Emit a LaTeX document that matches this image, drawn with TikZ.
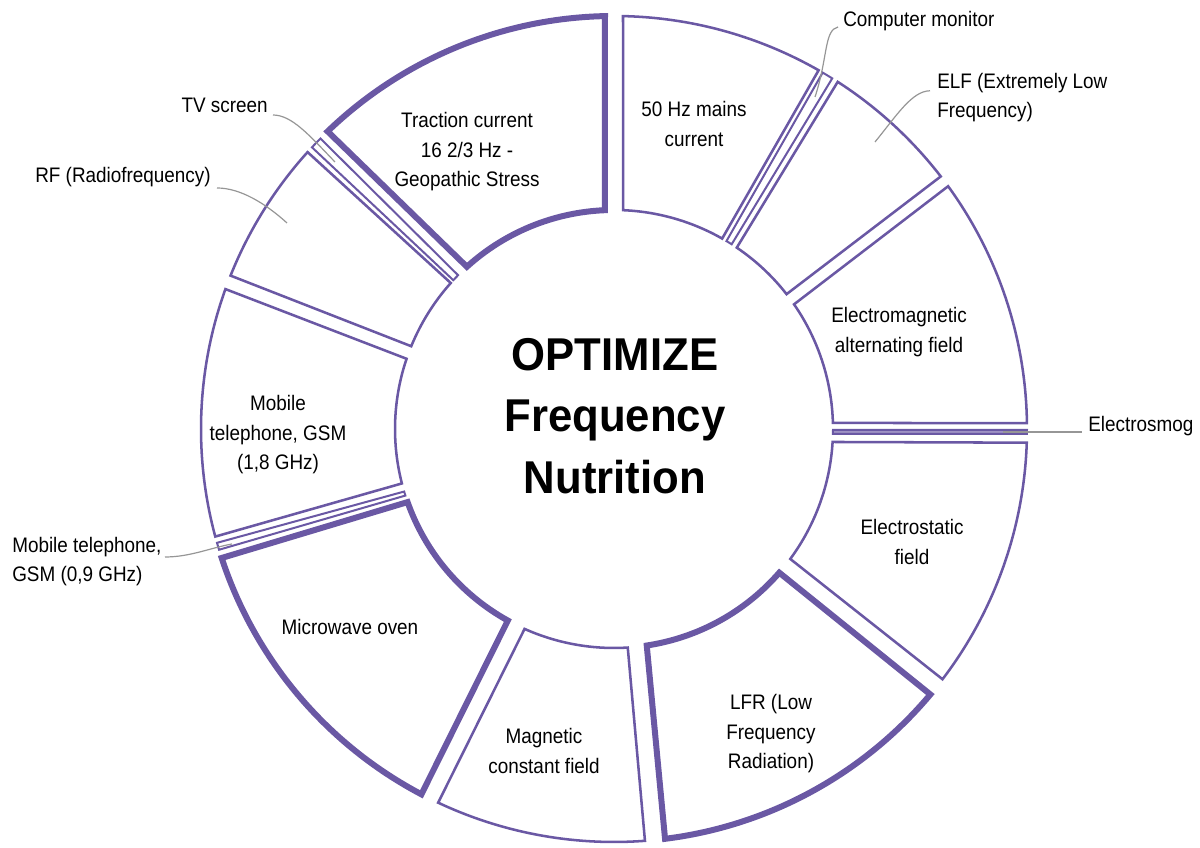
\documentclass[tikz,border=0pt]{standalone}
\usepackage{fontspec}
\setmainfont{Liberation Sans}[FakeStretch=0.9]
\newfontfamily\titlefont{Liberation Sans}[FakeStretch=0.95]
\usetikzlibrary{positioning}

\definecolor{ringpurple}{RGB}{106,88,164}
\definecolor{leadgray}{RGB}{150,150,150}

% one piece of the ring: style, outer start/end angle, inner start/end angle
\newcommand{\ringpart}[5]{%
  \draw[#1] (#2:413) arc[start angle=#2, end angle=#3, radius=413]
    -- (#5:219) arc[start angle=#5, end angle=#4, radius=219] -- cycle;}

\begin{document}
\begin{tikzpicture}[x=0.75pt,y=0.75pt,
    seg/.style={draw=ringpurple, line width=1.9pt},
    segbold/.style={draw=ringpurple, line width=4.5pt},
    sliver/.style={draw=ringpurple, line width=1.5pt},
    lbl/.style={font=\fontsize{15.75}{22.1}\selectfont, align=center, inner sep=0pt},
    leader/.style={draw=leadgray, line width=0.9pt}]

  \useasboundingbox (0,0) rectangle (1200,848);

  \begin{scope}[shift={(614,419)}]
    \ringpart{seg}{88.75}{60.3}{87.6}{60.4}
    \ringpart{sliver}{59.65}{58.1}{59.1}{57.5}
    \ringpart{seg}{57.2}{37.7}{55.9}{38.0}
    \ringpart{seg}{36.0}{0.8}{34.7}{1.6}
    \ringpart{sliver, fill=ringpurple!65}{-0.14}{-0.69}{-0.26}{-1.31}
    \ringpart{seg}{-1.9}{-37.3}{-3.4}{-36.4}
    \ringpart{segbold}{-40.0}{-82.9}{-41.0}{-81.4}
    \ringpart{seg}{-85.7}{-115.2}{-86.4}{-114.1}
    \ringpart{segbold}{-117.8}{-161.8}{-119.0}{-160.5}
    \ringpart{sliver}{-163.0}{-164.0}{-162.3}{-163.4}
    \ringpart{seg}{-164.9}{-199.8}{-165.6}{-198.7}
    \ringpart{seg}{158.2}{137.9}{157.8}{138.2}
    \ringpart{sliver}{137.0}{135.3}{137.2}{135.4}
    \ringpart{segbold}{133.9}{91.25}{132.2}{92.4}
  \end{scope}

  % texts in the ring
  \node[lbl] (mains) at (694,724) {50 Hz mains\\current};
  \node[lbl] (traction) at (467,696) {Traction current\\16 2/3 Hz -\\Geopathic Stress};
  \node[lbl] (emfield) at (899,516) {Electromagnetic\\alternating field};
  \node[lbl] (esfield) at (912,306) {Electrostatic\\field};
  \node[lbl] (lfr) at (771,114) {LFR (Low\\Frequency\\Radiation)};
  \node[lbl] (magfield) at (544,97) {Magnetic\\constant field};
  \node[lbl] (microwave) at (350,221) {Microwave oven};
  \node[lbl] (gsmhigh) at (278,413) {Mobile\\telephone, GSM\\(1,8 GHz)};

  \node[font=\titlefont\bfseries\fontsize{34.5}{46}\selectfont, align=center, inner sep=0pt]
    (title) at (615,432) {OPTIMIZE\\Frequency\\Nutrition};

  % outside texts
  \node[lbl, anchor=base west] (monitor) at (843,821) {Computer monitor};
  \node[lbl, align=left, anchor=north west] (elf) at (937,775) {ELF (Extremely Low\\Frequency)};
  \node[lbl, anchor=base west] (smog) at (1088,416) {Electrosmog};
  \node[lbl, anchor=base east] (tvscreen) at (268,735) {TV screen};
  \node[lbl, anchor=base east] (radiofreq) at (211,665) {RF (Radiofrequency)};
  \node[lbl, align=left, anchor=north west] (gsmlow) at (12,311) {Mobile telephone,\\GSM (0,9 GHz)};

  % leader lines
  \coordinate (monitorIn) at (815,751);
  \coordinate (elfIn) at (875,706);
  \coordinate (smogIn) at (1003,416);
  \coordinate (tvIn) at (335,686);
  \coordinate (rfIn) at (287,625);
  \coordinate (gsmlowIn) at (232,304);

  \draw[leader] (monitorIn) .. controls (828,790) and (824,818) .. ([shift={(-5,0)}]monitor.base west);
  \draw[leader] (elfIn) .. controls (897,733) and (912,757) .. ([shift={(-7,7)}]elf.west);
  \draw[leader] (smogIn) -- ([shift={(-6,0)}]smog.base west);
  \draw[leader] (tvIn) .. controls (310,712) and (292,733) .. ([shift={(5,-2)}]tvscreen.base east);
  \draw[leader] (rfIn) .. controls (265,645) and (240,660) .. ([shift={(6,-5)}]radiofreq.base east);
  \draw[leader] (gsmlowIn) .. controls (210,300) and (190,291) .. ([shift={(153,-20)}]gsmlow.north west);
\end{tikzpicture}
\end{document}
